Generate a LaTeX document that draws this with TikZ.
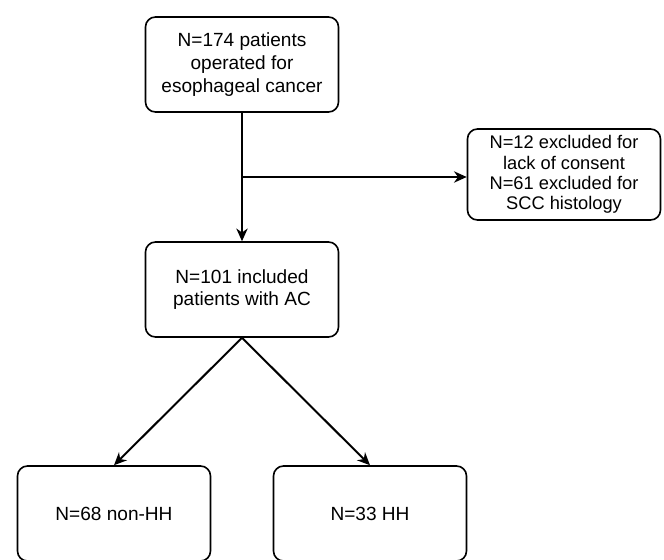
\documentclass[tikz,border=0pt]{standalone}
\usepackage{fontspec}
\setmainfont{Liberation Sans}
\usetikzlibrary{arrows.meta,calc}

\begin{document}
\begin{tikzpicture}[
        % one unit is one pixel of the reference
        x=0.75pt, y=-0.75pt,
        box/.style={rectangle, draw, line width=1.2pt, rounded corners=7.5pt, align=center, minimum width=144.75pt, minimum height=71.25pt, font=\fontsize{14.3}{17}\selectfont},
        arrow/.style={-{Stealth[length=9.5pt, width=8.5pt, inset=3pt]}, line width=1.5pt}
    ]
        \useasboundingbox (0,0) rectangle (664,560);

        \node [box] (patients) at (242,64.5) {N=174 patients\\operated for\\esophageal cancer};
        \node [box] (included) at (242,289.5) {N=101 included\\patients with AC};
        \node [box, minimum height=68.25pt, font=\fontsize{13.7}{15.3}\selectfont] (excluded) at (564,174.5) {N=12 excluded for\\lack of consent\\N=61 excluded for\\SCC histology};
        \node [box] (nonhh) at (114,513.5) {N=68 non-HH};
        \node [box] (hh) at (370,513.5) {N=33 HH};

        \coordinate (split) at ($(patients.south)!0.5!(included.north)$);

        \draw[arrow] (patients) -- (included);
        \draw[arrow] (split) -- (split -| excluded.west);
        \draw[arrow] (included.south) -- (nonhh.north);
        \draw[arrow] (included.south) -- (hh.north);
    \end{tikzpicture}
\end{document}
